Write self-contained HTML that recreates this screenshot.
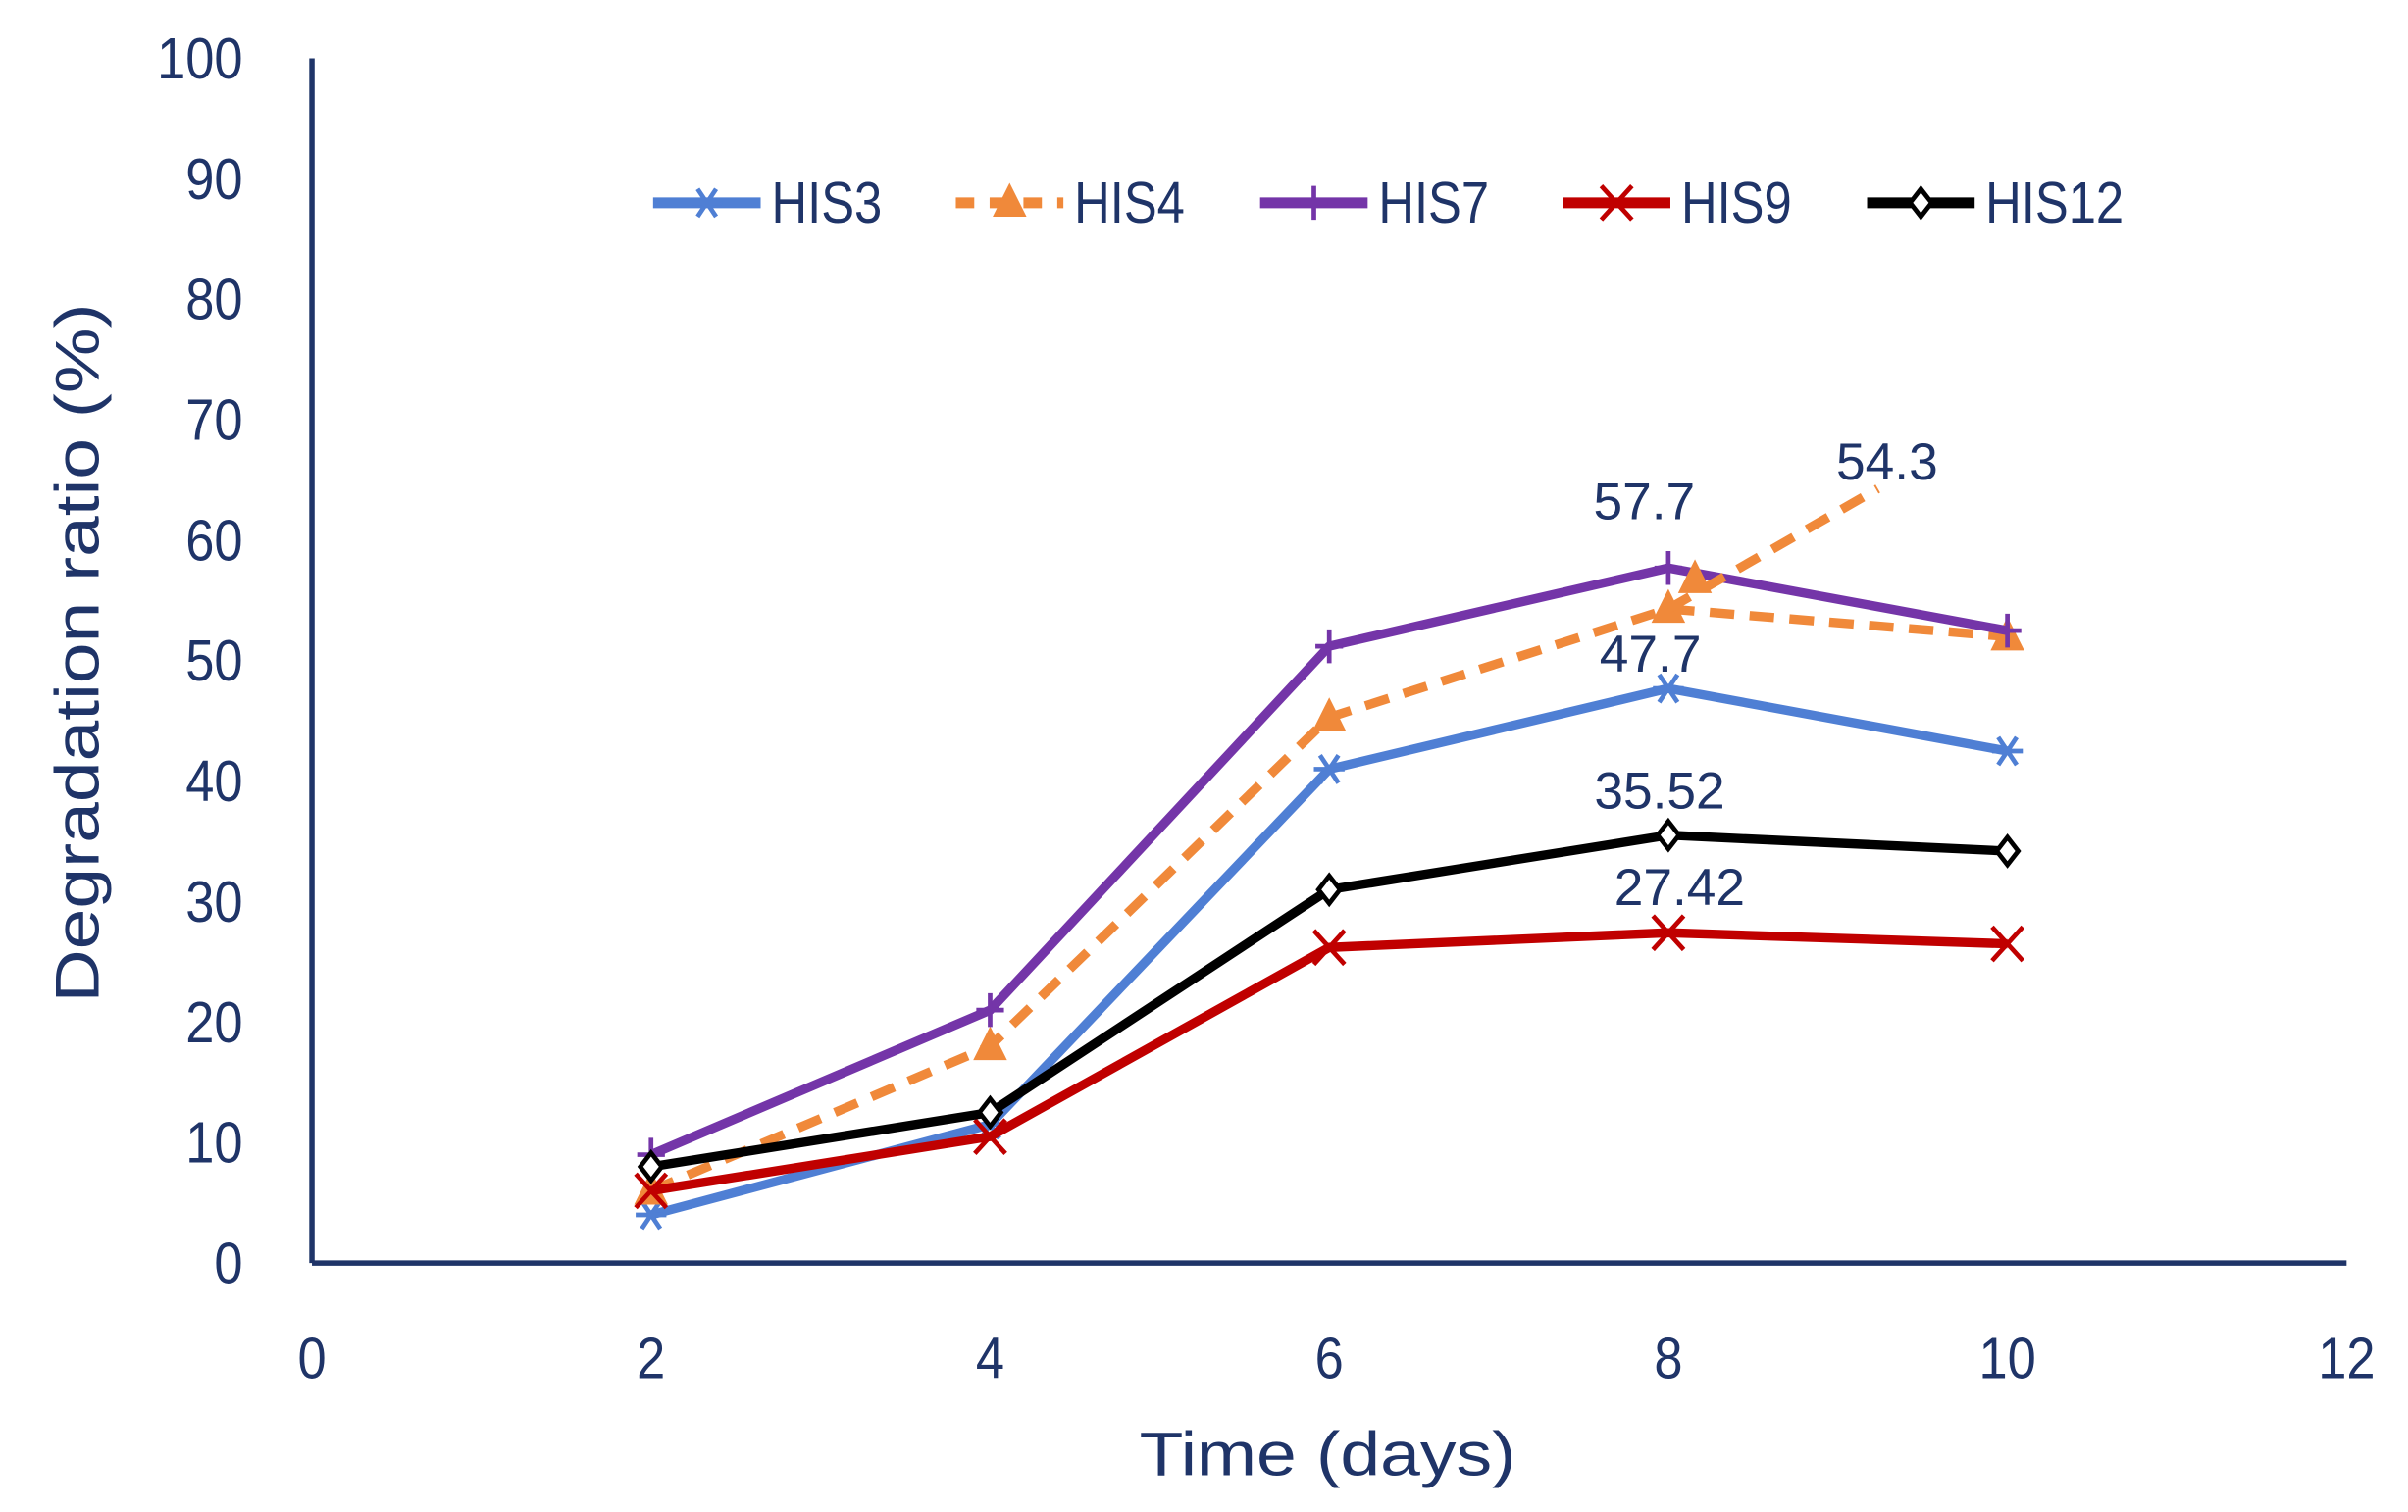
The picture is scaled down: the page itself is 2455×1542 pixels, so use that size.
<!DOCTYPE html>
<html><head><meta charset="utf-8"><style>
html,body{margin:0;padding:0;background:#fff;}
svg{display:block;}
text{font-family:"Liberation Sans",sans-serif;fill:#1f3468;}
</style></head><body>
<svg id="chart" width="2455" height="1542" viewBox="0 0 1567 984" preserveAspectRatio="none" xmlns="http://www.w3.org/2000/svg">
<g id="axes"></g>
<g id="series"></g>
<g id="labels"></g>
<g id="legend"></g>
<text x="864" y="960" font-size="40" text-anchor="middle" textLength="245" lengthAdjust="spacingAndGlyphs">Time (days)</text>
<text transform="translate(64,425) rotate(-90)" font-size="40" text-anchor="middle" textLength="455" lengthAdjust="spacingAndGlyphs">Degradation ratio (%)</text>
</svg>
<script>
const days=[2,4,6,8,10];
const xTicks=[0,2,4,6,8,10,12];
const yTicks=[0,10,20,30,40,50,60,70,80,90,100];
const his3=[4,11.5,41,47.7,42.5];
const his4=[6,18,45.3,54.3,52];
const his7=[9,21,51.2,57.7,52.5];
const his9=[6,10.5,26.2,27.42,26.5];
const his12=[8,12.5,31,35.52,34.2];
const NS="http://www.w3.org/2000/svg";
const X=v=>203+v*(1527-203)/12;
const Y=v=>822-v*(822-38)/100;
function el(tag,attrs,parent){const e=document.createElementNS(NS,tag);for(const k in attrs)e.setAttribute(k,attrs[k]);parent.appendChild(e);return e;}
const axes=document.getElementById('axes');
let a=el('line',{x1:203,y1:38,x2:203,y2:822,stroke:'#1f3468','stroke-width':3.5},axes);


a=el('line',{x1:203,y1:822,x2:1527,y2:822,stroke:'#1f3468','stroke-width':3.5},axes);


xTicks.forEach(t=>{const e=el('text',{x:X(t),y:897,'font-size':38,'text-anchor':'middle',transform:`translate(${X(t)},0) scale(0.88,1) translate(${-X(t)},0)`},axes);e.textContent=t;

});
yTicks.forEach(t=>{const e=el('text',{x:158,y:Y(t)+13,'font-size':38,'text-anchor':'end',transform:'translate(158,0) scale(0.88,1) translate(-158,0)'},axes);e.textContent=t;

});
function marker(type,cx,cy,color,g){
  const s=10;
  if(type==='star'){el('path',{d:`M${cx-s} ${cy}H${cx+s}M${cx-6} ${cy-9}L${cx+6} ${cy+9}M${cx+6} ${cy-9}L${cx-6} ${cy+9}`,stroke:color,'stroke-width':3},g);}
  else if(type==='tri'){el('path',{d:`M${cx} ${cy-13}L${cx+11} ${cy+9}L${cx-11} ${cy+9}Z`,fill:color},g);}
  else if(type==='plus'){el('path',{d:`M${cx} ${cy-11}V${cy+11}M${cx-9} ${cy}H${cx+9}`,stroke:color,'stroke-width':3},g);}
  else if(type==='x'){el('path',{d:`M${cx-10} ${cy-11}L${cx+10} ${cy+11}M${cx+10} ${cy-11}L${cx-10} ${cy+11}`,stroke:color,'stroke-width':3},g);}
  else if(type==='dia'){el('path',{d:`M${cx} ${cy-9}L${cx+7} ${cy}L${cx} ${cy+9}L${cx-7} ${cy}Z`,fill:'#fff',stroke:color,'stroke-width':3},g);}
}
const defs=[
 {name:'HIS3',vals:his3,color:'#4f7fd4',m:'star',dash:null},
 {name:'HIS4',vals:his4,color:'#f0893a',m:'tri',dash:'16 10'},
 {name:'HIS7',vals:his7,color:'#7435a8',m:'plus',dash:null},
 {name:'HIS9',vals:his9,color:'#c00000',m:'x',dash:null},
 {name:'HIS12',vals:his12,color:'#000000',m:'dia',dash:null}];
const sg=document.getElementById('series');
defs.forEach(d=>{
  const g=el('g',{},sg);
  
  
  const pts=days.map((t,i)=>X(t)+','+Y(d.vals[i])).join(' ');
  const p=el('polyline',{points:pts,fill:'none',stroke:d.color,'stroke-width':6,'stroke-linejoin':'round'},g);
  if(d.dash)p.setAttribute('stroke-dasharray',d.dash);
  days.forEach((t,i)=>marker(d.m,X(t),Y(d.vals[i]),d.color,g));
});
const lead=el('line',{x1:X(8),y1:Y(his4[3]),x2:1222,y2:318,stroke:'#f0893a','stroke-width':6,'stroke-dasharray':'16 10'},sg);


marker('tri',1103,377,'#f0893a',sg);
const lg=document.getElementById('labels');
[[his7[3],1070,338,'57.7'],[his4[3],1228,312,'54.3'],[his3[3],1074,437,'47.7'],[his12[3],1080,526,'35.52'],[his9[3],1093,589,'27.42']].forEach(r=>{
  const e=el('text',{x:r[1],y:r[2],'font-size':34,'text-anchor':'middle'},lg);e.textContent=r[3];
  
  
});
const leg=document.getElementById('legend');
const lx=[425,622,820,1017,1215];
defs.forEach((d,i)=>{
  const g=el('g',{},leg);
  
  
  const l=el('line',{x1:lx[i],y1:132,x2:lx[i]+70,y2:132,stroke:d.color,'stroke-width':7},g);
  if(d.dash)l.setAttribute('stroke-dasharray','12 10');
  marker(d.m,lx[i]+35,132,d.color,g);
  const t=el('text',{x:lx[i]+77,y:145,'font-size':38,textLength:d.name.length*18,lengthAdjust:'spacingAndGlyphs'},g);t.textContent=d.name;
});
</script>
</body></html>
